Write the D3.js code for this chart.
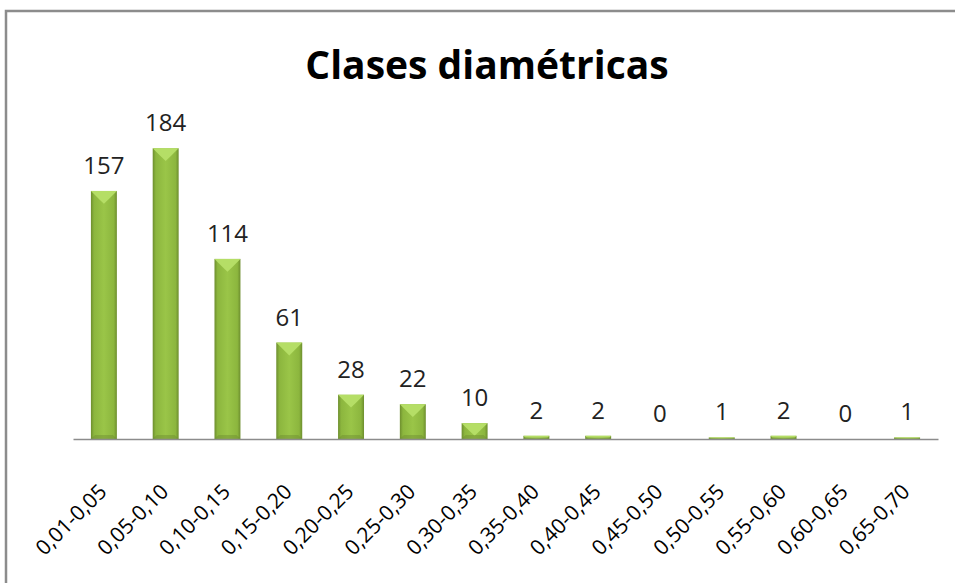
<!DOCTYPE html>
<html>
<head>
<meta charset="utf-8">
<script src="https://d3js.org/d3.v7.min.js"></script>
<style>
  body { margin: 0; background: #fff; }
  text { font-family: "Open Sans", sans-serif; fill: #000; }
</style>
</head>
<body>
<svg id="chart" width="955" height="583"></svg>
<script>
// data
const title = "Clases diamétricas";
const classes = ["0,01-0,05", "0,05-0,10", "0,10-0,15", "0,15-0,20", "0,20-0,25",
  "0,25-0,30", "0,30-0,35", "0,35-0,40", "0,40-0,45", "0,45-0,50",
  "0,50-0,55", "0,55-0,60", "0,60-0,65", "0,65-0,70"];
const counts = [157, 184, 114, 61, 28, 22, 10, 2, 2, 0, 1, 2, 0, 1];
const yMax = 200;

let margin = {top: 123, left: 73, right: 17, bottom: 144},
    width = 955 - margin.left - margin.right,
    height = 583 - margin.top - margin.bottom;

let svg = d3.select("#chart");

// outer frame (runs off the right and bottom of the picture)
svg.append("rect")
    .attr("x", 6).attr("y", 11)
    .attr("width", 960).attr("height", 600)
    .attr("fill", "#fff")
    .attr("stroke", "#8c8c8c")
    .attr("stroke-width", 2.5);

// gradients for the bevelled bars
let defs = svg.append("defs");
let body = defs.append("linearGradient").attr("id", "barBody")
    .attr("x1", "0%").attr("x2", "100%").attr("y1", "0%").attr("y2", "0%");
[["0%", "#6d8e2e"], ["12%", "#8cb63e"], ["50%", "#9ac548"], ["88%", "#8cb63e"], ["100%", "#6d8e2e"]]
    .forEach(s => body.append("stop").attr("offset", s[0]).attr("stop-color", s[1]));

svg.append("text")
    .attr("x", 487).attr("y", 79)
    .attr("text-anchor", "middle")
    .style("font-size", "39px")
    .style("font-weight", "bold")
    .text(title);

const x = d3.scaleBand()
    .domain(classes)
    .range([0, width])
    .paddingInner(0.58)
    .paddingOuter(0.29);

const y = d3.scaleLinear()
    .domain([0, yMax])
    .range([height, 0]);

let g = svg.append("g")
    .attr("transform", "translate(" + margin.left + "," + margin.top + ")");

let data = classes.map((c, i) => ({c: c, v: counts[i]}));

let bars = g.selectAll(".bar")
    .data(data.filter(d => d.v > 0))
    .enter().append("g")
    .attr("class", "bar");

bars.append("rect")
    .attr("x", d => x(d.c))
    .attr("y", d => y(d.v))
    .attr("width", x.bandwidth())
    .attr("height", d => height - y(d.v))
    .attr("fill", "url(#barBody)");

// top bevel: light chevron
bars.append("path")
    .attr("d", function (d) {
        let x0 = x(d.c), x1 = x0 + x.bandwidth(), t = y(d.v);
        let b = Math.min(8, (height - t) / 2);
        let cx = (x0 + x1) / 2;
        return "M" + x0 + "," + t + "L" + x1 + "," + t +
            "L" + (x1 - b) + "," + (t + b) + "L" + cx + "," + (t + b + b * 0.6) +
            "L" + (x0 + b) + "," + (t + b) + "Z";
    })
    .attr("fill", "#b5de66");

// bottom bevel: darker strip
bars.append("path")
    .attr("d", function (d) {
        let x0 = x(d.c), x1 = x0 + x.bandwidth(), t = y(d.v);
        let b = Math.min(4, (height - t) / 2);
        return "M" + x0 + "," + height + "L" + x1 + "," + height +
            "L" + (x1 - b) + "," + (height - b) + "L" + (x0 + b) + "," + (height - b) + "Z";
    })
    .attr("fill", "#6c8b30")
    .attr("opacity", 0.45);

// value labels
g.selectAll(".label")
    .data(data)
    .enter().append("text")
    .attr("class", "label")
    .attr("x", d => x(d.c) + x.bandwidth() / 2)
    .attr("y", d => y(d.v) - 17)
    .attr("text-anchor", "middle")
    .style("font-size", "24px")
    .style("fill", "#222")
    .text(d => d.v);

// x axis
let xAxis = g.append("g")
    .attr("transform", "translate(0," + height + ")")
    .call(d3.axisBottom(x).tickSize(0).tickPadding(0));

xAxis.select(".domain")
    .attr("stroke", "#8c8c8c")
    .attr("stroke-width", 1.5);

xAxis.selectAll("text")
    .attr("y", 0)
    .attr("dy", 0)
    .attr("text-anchor", "end")
    .attr("transform", "translate(4,54) rotate(-45)")
    .style("font-size", "21px")
    .style("font-family", "'Open Sans', sans-serif")
    .style("fill", "#000");
</script>
</body>
</html>
